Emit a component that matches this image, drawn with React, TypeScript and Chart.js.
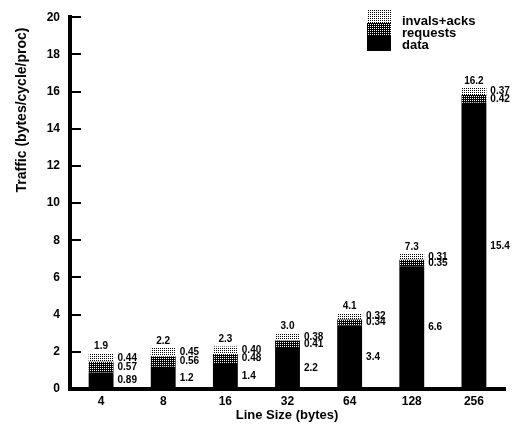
import { useEffect, useRef } from "react";
import { Chart, registerables } from "chart.js";

Chart.register(...registerables);

// Coherence traffic per processor, broken down by message class, for each cache line size.
const lineSizes = ["4", "8", "16", "32", "64", "128", "256"];
const dataTraffic = [0.89, 1.2, 1.4, 2.2, 3.4, 6.6, 15.4];
const requestTraffic = [0.57, 0.56, 0.48, 0.41, 0.34, 0.35, 0.42];
const invalAckTraffic = [0.44, 0.45, 0.4, 0.38, 0.32, 0.31, 0.37];
const seriesNames = ["data", "requests", "invals+acks"];
const yMax = 20;
const yStep = 2;

const FONT = "'Liberation Sans', Arial, Helvetica, sans-serif";

const fmt = (v: number) => (v < 1 ? v.toFixed(2) : v.toFixed(1));

// Halftone fills: a sparse dot screen and a dense one.
function makePattern(ctx: CanvasRenderingContext2D, dense: boolean) {
  const c = document.createElement("canvas");
  c.width = 4;
  c.height = 4;
  const p = c.getContext("2d")!;
  p.fillStyle = dense ? "#000" : "#fff";
  p.fillRect(0, 0, 4, 4);
  p.fillStyle = dense ? "#fff" : "#000";
  for (let y = 0; y < 4; y++) {
    for (let x = 0; x < 4; x++) {
      if ((x + y) % 2 === 0 && y % 2 === 0) p.fillRect(x, y, 1, 1);
    }
  }
  return ctx.createPattern(c, "repeat")!;
}

export default function App() {
  const ref = useRef<HTMLCanvasElement>(null);

  useEffect(() => {
    const canvas = ref.current!;
    const ctx = canvas.getContext("2d")!;
    const sparse = makePattern(ctx, false);
    const dense = makePattern(ctx, true);
    const series = [dataTraffic, requestTraffic, invalAckTraffic];
    const fills: (string | CanvasPattern)[] = ["#000", dense, sparse];

    const decorations = {
      id: "decorations",
      afterDatasetsDraw(chart: any) {
        const c = chart.ctx as CanvasRenderingContext2D;
        c.save();
        c.fillStyle = "#000";
        c.font = `bold 10px ${FONT}`;
        const metas = [0, 1, 2].map((i) => chart.getDatasetMeta(i));
        lineSizes.forEach((_, i) => {
          metas.forEach((meta: any, d: number) => {
            const bar = meta.data[i].getProps(["x", "y", "base", "width"], true);
            c.textAlign = "left";
            c.textBaseline = "middle";
            c.fillText(fmt(series[d][i]), bar.x + bar.width / 2 + 4, (bar.y + bar.base) / 2);
          });
          const top = metas[2].data[i].getProps(["x", "y"], true);
          const total = dataTraffic[i] + requestTraffic[i] + invalAckTraffic[i];
          c.textAlign = "center";
          c.textBaseline = "middle";
          c.fillText(total.toFixed(1), top.x, top.y - 7);
        });
        c.restore();
      },
      afterDraw(chart: any) {
        const c = chart.ctx as CanvasRenderingContext2D;
        const y = chart.scales.y;
        const area = chart.chartArea;
        c.save();
        // inward tick marks on the value axis
        c.strokeStyle = "#000";
        c.lineWidth = 2;
        for (let v = yStep; v <= yMax; v += yStep) {
          const py = Math.round(y.getPixelForValue(v));
          c.beginPath();
          c.moveTo(area.left, py);
          c.lineTo(area.left + 11, py);
          c.stroke();
        }
        // legend
        const lx = 367;
        const rows = [
          { name: seriesNames[2], fill: sparse, top: 10, h: 13, ty: 21 },
          { name: seriesNames[1], fill: dense, top: 23, h: 13, ty: 33 },
          { name: seriesNames[0], fill: "#000", top: 36, h: 15, ty: 45 },
        ];
        c.font = `bold 13px ${FONT}`;
        c.textAlign = "left";
        c.textBaseline = "middle";
        rows.forEach((r) => {
          c.fillStyle = r.fill as any;
          c.fillRect(lx, r.top, 24, r.h);
          c.fillStyle = "#000";
          c.fillText(r.name, 402, r.ty);
        });
        // axis titles
        c.font = `bold 13px ${FONT}`;
        c.textAlign = "center";
        c.fillText("Line Size (bytes)", 287, 415);
        c.font = `bold 14px ${FONT}`;
        c.translate(22, 110);
        c.rotate(-Math.PI / 2);
        c.fillText("Traffic (bytes/cycle/proc)", 0, 0);
        c.restore();
      },
    };

    const chart = new Chart(canvas, {
      type: "bar",
      data: {
        labels: lineSizes,
        datasets: series.map((values, d) => ({
          label: seriesNames[d],
          data: values,
          backgroundColor: fills[d] as any,
          borderWidth: 0,
          barPercentage: 1,
          categoryPercentage: 0.4,
        })),
      },
      options: {
        responsive: false,
        animation: false,
        layout: { padding: { top: 12, right: 12, left: 0, bottom: 0 } },
        plugins: { legend: { display: false }, tooltip: { enabled: false } },
        scales: {
          x: {
            stacked: true,
            offset: true,
            grid: { display: false, drawTicks: false },
            border: { display: true, color: "#000", width: 4 },
            ticks: { color: "#000", padding: 5, font: { family: FONT, size: 12, weight: "bold" } },
            afterFit: (s: any) => {
              s.height = 40;
            },
          },
          y: {
            stacked: true,
            min: 0,
            max: yMax,
            grid: { display: false, drawTicks: false },
            border: { display: true, color: "#000", width: 4 },
            ticks: { stepSize: yStep, color: "#000", padding: 10, font: { family: FONT, size: 12, weight: "bold" } },
            afterFit: (s: any) => {
              s.width = 70;
            },
          },
        },
      },
      plugins: [decorations],
    });
    return () => chart.destroy();
  }, []);

  return (
    <div style={{ position: "absolute", left: 0, top: 0, width: 517, height: 429, background: "#fff" }}>
      <canvas ref={ref} width={517} height={429} />
    </div>
  );
}
